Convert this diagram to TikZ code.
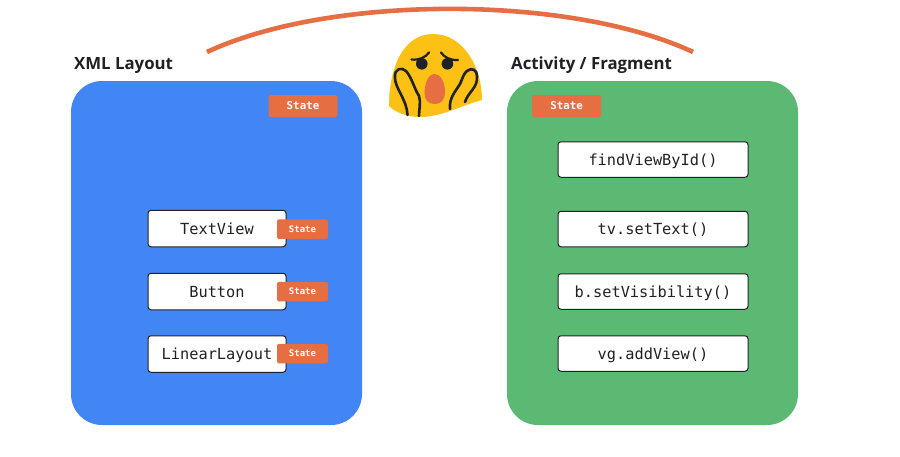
\documentclass[tikz,border=0pt]{standalone}
\usepackage{fontspec}
\setmainfont{Open Sans}
\newfontfamily\monof{DejaVu Sans Mono}
\definecolor{gblue}{HTML}{4285F4}
\definecolor{ggreen}{HTML}{5BB974}
\definecolor{gorange}{HTML}{E56F42}
\definecolor{gyellow}{HTML}{FDC115}
\definecolor{ink}{HTML}{202124}
\tikzset{
  x=1pt,y=-1pt,
  panel/.style={rounded corners=31pt,inner sep=0pt,minimum width=291pt,minimum height=344pt},
  viewbox/.style={draw=ink,line width=1pt,fill=white,rounded corners=3pt,inner sep=0pt,text=ink,text height=13pt,text depth=1.4pt,font=\monof\fontsize{15.3}{18}\selectfont},
  statebig/.style={fill=gorange,rounded corners=1.5pt,inner sep=0pt,minimum width=69pt,minimum height=22pt,text=white,text height=8.3pt,text depth=1pt,font=\monof\bfseries\fontsize{10.8}{12}\selectfont},
  statesmall/.style={fill=gorange,rounded corners=1.5pt,inner sep=0pt,minimum width=51pt,minimum height=19.5pt,text=white,text height=7.8pt,text depth=1pt,font=\monof\bfseries\fontsize{9}{10}\selectfont},
  heading/.style={inner sep=0pt,anchor=base west,text=ink,font=\bfseries\fontsize{16.8}{20}\selectfont},
}
\begin{document}
\begin{tikzpicture}
\useasboundingbox[fill=white] (0,0) rectangle (900,456);
% panels
\node[panel,fill=gblue] (xml) at (216.5,253) {};
\node[panel,fill=ggreen] (act) at (652.5,253) {};
\node[heading] (xmlt) at (74,69) {XML Layout};
\node[heading] (actt) at (511,69) {Activity / Fragment};
% arc
\coordinate (arcl) at (207,52);
\coordinate (arcr) at (693,52);
\draw[gorange,line width=4.6pt] (arcl) .. controls (330,-5.5) and (570,-5.5) .. (arcr);
% left views
\node[viewbox,minimum width=138pt,minimum height=36.5pt] (tv) at (217,228.5) {TextView};
\node[viewbox,minimum width=138pt,minimum height=36.5pt] (bt) at (217,291.5) {Button};
\node[viewbox,minimum width=138pt,minimum height=36.5pt] (ll) at (217,354) {LinearLayout};
\node[statebig] (s0) at (303,106) {State};
\node[statesmall] (s1) at (302.5,229) {State};
\node[statesmall] (s2) at (302.5,291.5) {State};
\node[statesmall] (s3) at (302.5,353.5) {State};
% right
\node[statebig] (s4) at (566.5,106) {State};
\node[viewbox,minimum width=190pt,minimum height=35.5pt] (r1) at (653,159.5) {findViewById()};
\node[viewbox,minimum width=190pt,minimum height=35.5pt] (r2) at (653,229) {tv.setText()};
\node[viewbox,minimum width=190pt,minimum height=35.5pt] (r3) at (653,291.5) {b.setVisibility()};
\node[viewbox,minimum width=190pt,minimum height=35.5pt] (r4) at (653,353.5) {vg.addView()};
% emoji
\fill[gyellow] (389,106) .. controls (389,68) and (403,34) .. (433,34)
  .. controls (464,34) and (482,68) .. (482,100)
  .. controls (462,105) and (442,117) .. (420,117)
  .. controls (408,117) and (396,113) .. (389,106) -- cycle;
\fill[ink] (421.8,63.8) circle (5.8pt);
\fill[ink] (447.4,63.8) circle (5.8pt);
\draw[ink,line width=2.2pt,line cap=round] (411.5,59.5) .. controls (419,60.5) and (426,57) .. (429,52.5);
\draw[ink,line width=2.2pt,line cap=round] (441,52.5) .. controls (444,57) and (450,60.5) .. (458,60);
\fill[gorange] (434.7,74) .. controls (441,74) and (445,83) .. (445,92)
  .. controls (445,100) and (441,104) .. (435,104)
  .. controls (428,104) and (424.5,100) .. (424.5,93)
  .. controls (424.5,84) and (428,74) .. (434.7,74) -- cycle;
\draw[ink,line width=2.6pt,line cap=round] (407.5,115) .. controls (407,100) and (395,88) .. (395,78)
  .. controls (394,68) and (402,67) .. (406,71)
  .. controls (412,78) and (414,88) .. (419,96)
  .. controls (421,102) and (419,110) .. (419,116);
\draw[ink,line width=2.6pt,line cap=round] (450,109) .. controls (449,98) and (455,92) .. (460,84)
  .. controls (463,77) and (464,73) .. (467,71)
  .. controls (472,67) and (477,70) .. (477,76)
  .. controls (478,88) and (468,92) .. (465,102);
\end{tikzpicture}
\end{document}
